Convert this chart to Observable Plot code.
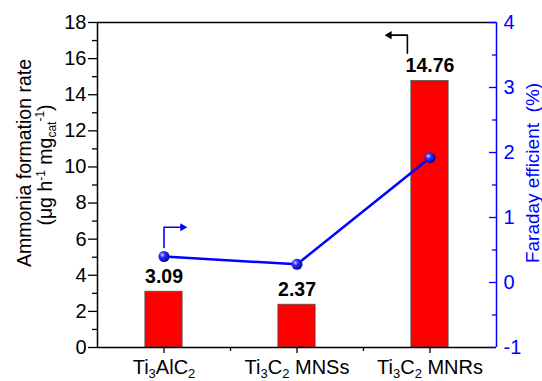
<!DOCTYPE html>
<html><head><meta charset="utf-8">
<script src="https://cdn.jsdelivr.net/npm/d3@7"></script>
<script src="https://cdn.jsdelivr.net/npm/@observablehq/plot@0.6"></script>
<style>body{margin:0;background:#fff}</style>
</head><body><div id="chart"></div>
<script>
// ---- data ----
const categories = ["Ti3AlC2", "Ti3C2 MNSs", "Ti3C2 MNRs"];
const positions = [1, 2, 3];
const ammoniaRate = [3.09, 2.37, 14.76];          // left axis, µg h-1 mgcat-1
const faradayEff = [0.40, 0.28, 1.92];            // right axis, %
const leftTicks = [0, 2, 4, 6, 8, 10, 12, 14, 16, 18];
const leftMinorTicks = [1, 3, 5, 7, 9, 11, 13, 15, 17];
const rightTicks = [-1, 0, 1, 2, 3, 4];
const rightMinorTicks = [-0.5, 0.5, 1.5, 2.5, 3.5];
const xMinorTicks = [1.5, 2.5];
// annotation arrows (data coordinates)
const blueArrowX = [1, 1, 1.14];
const blueArrowFE = [0.54, 0.85, 0.85];
const blackArrowX = [2.83, 2.83, 2.694];
const blackArrowRate = [16.3, 17.3, 17.3];

const leftDomain = [0, 18];
const rightDomain = [-1, 4];
const toLeft = v => (v - rightDomain[0]) * (leftDomain[1] - leftDomain[0]) / (rightDomain[1] - rightDomain[0]);
const fromLeft = v => v * (rightDomain[1] - rightDomain[0]) / (leftDomain[1] - leftDomain[0]) + rightDomain[0];

const bars = positions.map((p, i) => ({x: p, rate: ammoniaRate[i]}));
const pts = positions.map((p, i) => ({x: p, fe: faradayEff[i]}));
const blueArrow = blueArrowX.map((x, i) => ({x, y: toLeft(blueArrowFE[i])}));
const blackArrow = blackArrowX.map((x, i) => ({x, y: blackArrowRate[i]}));

const BLUE = "#0000ff";
const halfW = 0.14;

const svg = Plot.plot({
  width: 542, height: 381,
  marginLeft: 97, marginRight: 46, marginTop: 22, marginBottom: 34,
  style: {fontFamily: "'Liberation Sans', Arial, sans-serif", fontSize: "20px", background: "white", color: "black"},
  x: {type: "linear", domain: [0.5, 3.5]},
  y: {domain: leftDomain},
  marks: [
    Plot.rectY(bars, {x1: d => d.x - halfW, x2: d => d.x + halfW, y: "rate", fill: "#ff0000", stroke: "#555", strokeWidth: 0.8}),
    Plot.text(bars, {x: "x", y: "rate", text: d => d.rate.toFixed(2), dy: -9, lineAnchor: "bottom", fontWeight: "bold", fontSize: 19.5, fill: "black"}),
    // frame
    Plot.ruleY([leftDomain[0]], {stroke: "black", strokeWidth: 1.5}),
    Plot.ruleY([leftDomain[1]], {stroke: "black", strokeWidth: 1.5}),
    Plot.ruleX([0.5], {stroke: "black", strokeWidth: 1.5}),
    Plot.ruleX([3.5], {stroke: BLUE, strokeWidth: 1.5}),
    // left axis
    Plot.axisY({ticks: leftTicks, tickSize: 9, tickPadding: 2, fontSize: 20, label: null, strokeWidth: 1.3}),
    Plot.axisY({ticks: leftMinorTicks, tickSize: 5, tickFormat: () => "", label: null, strokeWidth: 1.3}),
    // x axis
    Plot.axisX({ticks: positions, tickFormat: v => categories[Math.round(v) - 1], tickSize: 6, tickPadding: 6, fontSize: 20, label: null, strokeWidth: 1.3}),
    Plot.axisX({ticks: xMinorTicks, tickSize: 4, tickFormat: () => "", label: null, strokeWidth: 1.3}),
    // right axis (Faraday efficiency): labels outside, ticks pointing inward
    Plot.axisY({anchor: "right", ticks: rightTicks.map(toLeft), tickFormat: v => String(Math.round(fromLeft(v))), tickSize: 0, tickPadding: 7, fontSize: 20, color: BLUE, label: null}),
    Plot.axisY({anchor: "left", frameAnchor: "right", ticks: rightTicks.map(toLeft), tickSize: 7, tickFormat: () => "", color: BLUE, label: null, strokeWidth: 1.3}),
    Plot.axisY({anchor: "left", frameAnchor: "right", ticks: rightMinorTicks.map(toLeft), tickSize: 4, tickFormat: () => "", color: BLUE, label: null, strokeWidth: 1.3}),
    // FE line and points
    Plot.line(pts, {x: "x", y: d => toLeft(d.fe), stroke: BLUE, strokeWidth: 2.5}),
    Plot.dot(pts, {x: "x", y: d => toLeft(d.fe), r: 5.5, fill: "url(#ball)", stroke: "none"}),
    // annotation arrows
    Plot.line(blueArrow, {x: "x", y: "y", stroke: BLUE, strokeWidth: 1.6}),
    Plot.dot(blueArrow.slice(-1), {x: "x", y: "y", symbol: "triangle", rotate: 90, r: 3, fill: BLUE, stroke: "none"}),
    Plot.line(blackArrow, {x: "x", y: "y", stroke: "black", strokeWidth: 1.6}),
    Plot.dot(blackArrow.slice(-1), {x: "x", y: "y", symbol: "triangle", rotate: -90, r: 3, fill: "black", stroke: "none"})
  ]
});

const s = d3.select(svg);
// sphere gradient
const g = s.insert("defs", ":first-child").append("radialGradient").attr("id", "ball")
  .attr("cx", "35%").attr("cy", "35%").attr("r", "70%");
g.append("stop").attr("offset", "0%").attr("stop-color", "#d0d0ff");
g.append("stop").attr("offset", "35%").attr("stop-color", "#3030ff");
g.append("stop").attr("offset", "100%").attr("stop-color", "#0000a0");

// subscripts in x tick labels
s.selectAll('g[aria-label="x-axis tick label"] text').each(function() {
  const t = d3.select(this);
  const label = t.text();
  t.text("");
  const parts = label.match(/\d+|\D+/g) || [];
  let shifted = false;
  parts.forEach(p => {
    const isSub = /\d/.test(p);
    const ts = t.append("tspan").text(p);
    if (isSub && !shifted) { ts.attr("dy", 4).attr("font-size", 13); shifted = true; }
    else if (isSub) { ts.attr("font-size", 13); }
    else if (shifted) { ts.attr("dy", -4); shifted = false; }
  });
});

// left axis title
const font = "'Liberation Sans', Arial, sans-serif";
s.append("text").attr("transform", "translate(31,163) rotate(-90)")
  .attr("text-anchor", "middle").attr("font-family", font).attr("font-size", 19.5).attr("fill", "black")
  .text("Ammonia formation rate");
const t2 = s.append("text").attr("transform", "translate(52,165) rotate(-90)")
  .attr("text-anchor", "middle").attr("font-family", font).attr("font-size", 19.5).attr("fill", "black");
t2.append("tspan").text("(μg h");
t2.append("tspan").attr("dy", -7).attr("font-size", 12).text("-1");
t2.append("tspan").attr("dy", 7).text(" mg");
t2.append("tspan").attr("dy", 4).attr("font-size", 12).text("cat");
t2.append("tspan").attr("dy", -12).attr("font-size", 12).text("-1");
t2.append("tspan").attr("dy", 8).text(")");

// right axis title
s.append("text").attr("transform", "translate(539,173) rotate(-90)")
  .attr("text-anchor", "middle").attr("font-family", font).attr("font-size", 19).attr("fill", BLUE)
  .style("white-space", "pre").text("Faraday efficient  (%)");

document.getElementById("chart").appendChild(svg);
</script>
</body></html>
